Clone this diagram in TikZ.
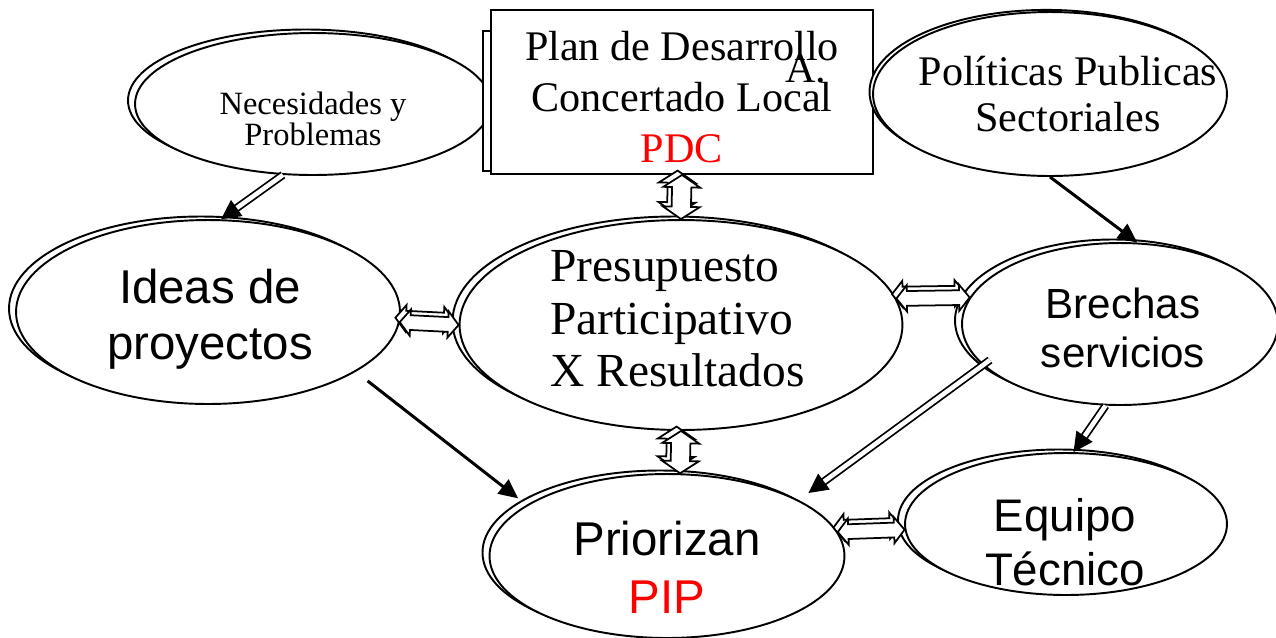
\documentclass[tikz,border=0pt]{standalone}
\usepackage{fontspec}
\setmainfont{Liberation Serif}
\newfontfamily\arialf{Liberation Sans}
\usetikzlibrary{shapes.geometric,shadows,calc,arrows.meta}
\definecolor{pdcred}{RGB}{255,0,0}
\tikzset{
  ell/.style={ellipse, draw, line width=1.1pt, fill=white, inner sep=0pt,
    copy shadow={shadow xshift=-4pt, shadow yshift=2pt}},
  ellb/.style={ellipse, draw, line width=1.1pt, fill=white, inner sep=0pt,
    copy shadow={shadow xshift=-2pt, shadow yshift=1.2pt}},
  boxst/.style={rectangle, draw, line width=1.1pt, fill=white, inner sep=0pt},
  txt/.style={inner sep=0pt, align=center},
  harrow/.style={draw, line width=1pt, fill=white, line join=miter},
  dline/.style={double, double distance=2.6pt, line width=1pt},
  dtip/.style={line width=1pt, -{Triangle[length=11pt,width=11pt]}},
  sarrow/.style={line width=1.7pt, -{Triangle[length=11pt,width=10pt]}},
}
\newcommand\hpath[5]{(#1) -- ($(#1)!#3!(#2)!#4!90:(#2)$) -- ($(#1)!#3!(#2)!#5!90:(#2)$) -- ($(#2)!#3!(#1)!#5!-90:(#1)$) -- ($(#2)!#3!(#1)!#4!-90:(#1)$) -- (#2) -- ($(#2)!#3!(#1)!#4!90:(#1)$) -- ($(#2)!#3!(#1)!#5!90:(#1)$) -- ($(#1)!#3!(#2)!#5!-90:(#2)$) -- ($(#1)!#3!(#2)!#4!-90:(#2)$) -- cycle}
\newcommand\hollowarrow[5]{%
  \draw[harrow, transform canvas={xshift=-2.5pt, yshift=2.5pt}] \hpath{#1}{#2}{#3}{#4}{#5};
  \draw[harrow] \hpath{#1}{#2}{#3}{#4}{#5};
}
\newcommand\dblarrow[4]{%
  \draw[dline, shorten >=#3] (#1) -- (#2);
  \draw[dtip, shorten >=#4] ($(#2)!#3!(#1)$) -- (#2);
}
\begin{document}
\begin{tikzpicture}[x=0.02cm, y=-0.02cm]
\useasboundingbox (0,0) rectangle (1276,637);
% shapes
\node[ell, minimum width=7.12cm, minimum height=2.84cm] (nec) at (313,104) {};
\node[boxst, minimum width=6cm, minimum height=2.8cm] (pdcsh) at (633,101) {};
\node[boxst, minimum width=7.64cm, minimum height=3.28cm] (pdc) at (682,92) {};
\node[ellb, minimum width=7.08cm, minimum height=3.28cm] (pol) at (1050,94) {};
\node[ell, minimum width=7.68cm, minimum height=3.68cm] (ideas) at (208,312) {};
\node[ell, minimum width=8.86cm, minimum height=4.2cm] (ppr) at (681,325) {};
\node[ell, minimum width=6.32cm, minimum height=3.24cm] (bre) at (1120,324) {};
\node[ell, minimum width=6.44cm, minimum height=2.84cm] (eq) at (1066,524) {};
\node[ell, minimum width=7.1cm, minimum height=3.28cm] (pri) at (667,556) {};
% texts
\node[txt, font=\fontsize{18.5}{17.5}\selectfont] (nect) at (313,119) {Necesidades y\\Problemas};
\node[txt, font=\fontsize{24}{28.9}\selectfont] (pdct) at (682,97) {Plan de Desarrollo\\Concertado Local\\\textcolor{pdcred}{PDC}};
\node[txt, font=\fontsize{24}{28.9}\selectfont] (pdca) at (806,69) {A.};
\node[txt, font=\fontsize{24}{26.6}\selectfont] (polt) at (1068,94) {Políticas Publicas\\Sectoriales};
\node[txt, font=\arialf\fontsize{27}{32}\selectfont] (ideast) at (210,319) {Ideas de\\proyectos};
\node[txt, align=left, anchor=west, font=\fontsize{27}{29.8}\selectfont] (pprt) at (550,319) {Presupuesto\\Participativo\\X Resultados};
\node[txt, font=\arialf\fontsize{24}{27.8}\selectfont] (bret) at (1123,328) {Brechas\\servicios};
\node[txt, font=\arialf\fontsize{27}{32.9}\selectfont] (prit) at (667,567) {Priorizan\\\textcolor{pdcred}{PIP}};
\node[txt, font=\arialf\fontsize{26}{31}\selectfont] (eqt) at (1065,542) {Equipo\\Técnico};
% connectors
\coordinate (brestart) at ($(bre.center)+(-130,36)$);
\dblarrow{nec.247}{ideas.82}{8pt}{0pt}
\draw[sarrow] (pol.south) -- (bre.78);
\dblarrow{bre.260}{eq.84}{8pt}{0pt}
\dblarrow{brestart}{pri.23}{14.8pt}{6.8pt}
\draw[sarrow, shorten <=8.5pt, shorten >=6pt] (ideas.-22) -- (pri.160);
\hollowarrow{pdc.south}{ppr.north}{7pt}{10.5pt}{5.5pt}
\hollowarrow{ideas.-3}{ppr.west}{6pt}{7.5pt}{4.2pt}
\hollowarrow{ppr.7}{bre.170}{6pt}{7.5pt}{4.2pt}
\hollowarrow{ppr.south}{pri.81}{7pt}{10.5pt}{5.5pt}
\hollowarrow{pri.8}{eq.182}{6pt}{7.5pt}{4.2pt}
\end{tikzpicture}
\end{document}
